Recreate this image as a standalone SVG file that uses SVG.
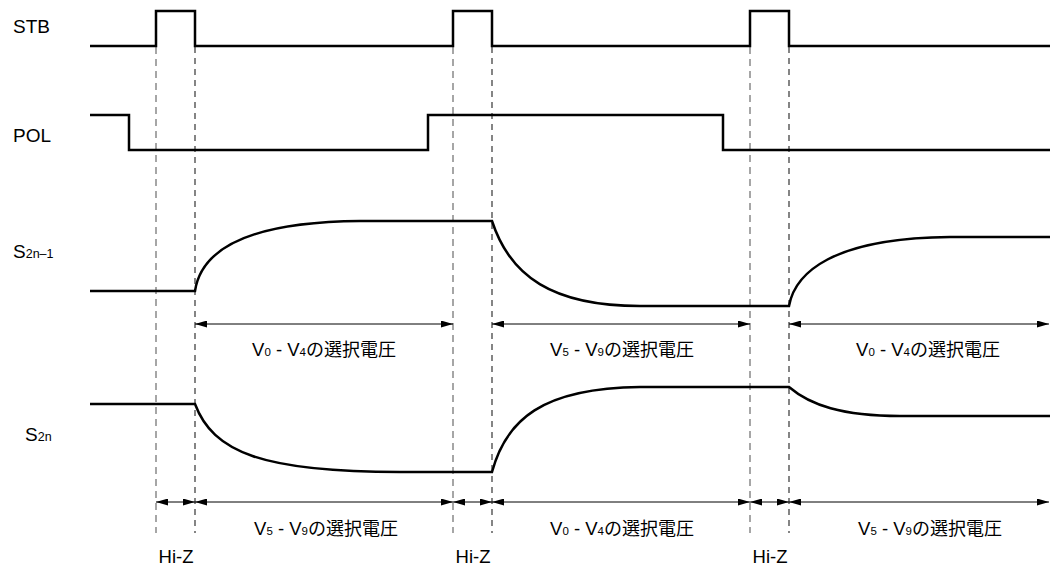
<svg xmlns="http://www.w3.org/2000/svg" width="1050" height="567" viewBox="0 0 1050 567">
<style>
.bg{fill:#fff}
.wave{fill:none;stroke:#000;stroke-width:2.5;stroke-linejoin:miter}
.dash{fill:none;stroke:#222;stroke-width:1.1;stroke-dasharray:6,5}
.dashg{fill:none;stroke:#777;stroke-width:1.3;stroke-dasharray:7,5}
.dim{fill:none;stroke:#000;stroke-width:1;marker-start:url(#ah);marker-end:url(#ah)}
.lbl{font-family:"Liberation Sans",Arial,sans-serif;font-size:19px;fill:#000}
.txt{font-family:"Liberation Sans","Noto Sans CJK JP",sans-serif;font-size:18.5px;fill:#000;text-anchor:middle}
.cjk{font-family:"Noto Sans CJK JP",sans-serif;font-size:18px}
.sub{font-size:11.5px}
</style>
<defs>
<marker id="ah" viewBox="0 0 12 7" refX="12" refY="3.5" markerWidth="12" markerHeight="7" markerUnits="userSpaceOnUse" orient="auto-start-reverse">
<path d="M0,0 L12,3.5 L0,7 z" fill="#000"/>
</marker>
</defs>
<rect class="bg" x="0" y="0" width="1050" height="567"/>

<g id="labels">
<text class="lbl" x="13" y="33">STB</text>
<text class="lbl" x="13" y="142">POL</text>
<text class="lbl" x="13" y="258">S<tspan font-size="12.5">2n–1</tspan></text>
<text class="lbl" x="25" y="441">S<tspan font-size="12.5">2n</tspan></text>
</g>

<g id="guides">
<line class="dashg" x1="156" y1="47" x2="156" y2="533"/>
<line class="dash" x1="195" y1="47" x2="195" y2="533"/>
<line class="dashg" x1="453" y1="47" x2="453" y2="533"/>
<line class="dash" x1="492" y1="47" x2="492" y2="533"/>
<line class="dashg" x1="750" y1="47" x2="750" y2="533"/>
<line class="dash" x1="789" y1="47" x2="789" y2="533"/>
</g>

<g id="STB">
<path class="wave" d="M90,46 H156 V11 H195 V46 H453 V11 H492 V46 H750 V11 H789 V46 H1050"/>
</g>
<g id="POL">
<path class="wave" d="M90,115 H129 V150 H428 V115 H723 V150 H1050"/>
</g>
<g id="S2n-1">
<path class="wave" d="M90,291 H195 C200,258 232,222 360,221 L492,221 C510,276 552,306 640,306 L789,306 C795,273 832,238 950,237 L1050,237"/>
</g>
<g id="S2n">
<path class="wave" d="M90,404 H195 C213,452 262,472 400,472 L492,472 C506,420 542,388 640,387 L789,387 C810,405 842,416 900,416 L1050,416"/>
</g>

<g id="connectors">
<line class="dim" x1="195" y1="324" x2="453" y2="324"/>
<line class="dim" x1="492" y1="324" x2="750" y2="324"/>
<line class="dim" x1="789" y1="324" x2="1049" y2="324"/>
<line class="dim" x1="156" y1="502" x2="195" y2="502"/>
<line class="dim" x1="195" y1="502" x2="453" y2="502"/>
<line class="dim" x1="453" y1="502" x2="492" y2="502"/>
<line class="dim" x1="492" y1="502" x2="750" y2="502"/>
<line class="dim" x1="750" y1="502" x2="789" y2="502"/>
<line class="dim" x1="789" y1="502" x2="1049" y2="502"/>
</g>

<g id="texts">
<text class="txt" x="324" y="356">V<tspan class="sub">0</tspan> - V<tspan class="sub">4</tspan><tspan class="cjk">の選択電圧</tspan></text>
<text class="txt" x="622" y="356">V<tspan class="sub">5</tspan> - V<tspan class="sub">9</tspan><tspan class="cjk">の選択電圧</tspan></text>
<text class="txt" x="928" y="356">V<tspan class="sub">0</tspan> - V<tspan class="sub">4</tspan><tspan class="cjk">の選択電圧</tspan></text>
<text class="txt" x="326" y="535">V<tspan class="sub">5</tspan> - V<tspan class="sub">9</tspan><tspan class="cjk">の選択電圧</tspan></text>
<text class="txt" x="622" y="535">V<tspan class="sub">0</tspan> - V<tspan class="sub">4</tspan><tspan class="cjk">の選択電圧</tspan></text>
<text class="txt" x="930" y="535">V<tspan class="sub">5</tspan> - V<tspan class="sub">9</tspan><tspan class="cjk">の選択電圧</tspan></text>
<text class="txt" x="176" y="563">Hi-Z</text>
<text class="txt" x="473" y="563">Hi-Z</text>
<text class="txt" x="770" y="563">Hi-Z</text>
</g>
</svg>
